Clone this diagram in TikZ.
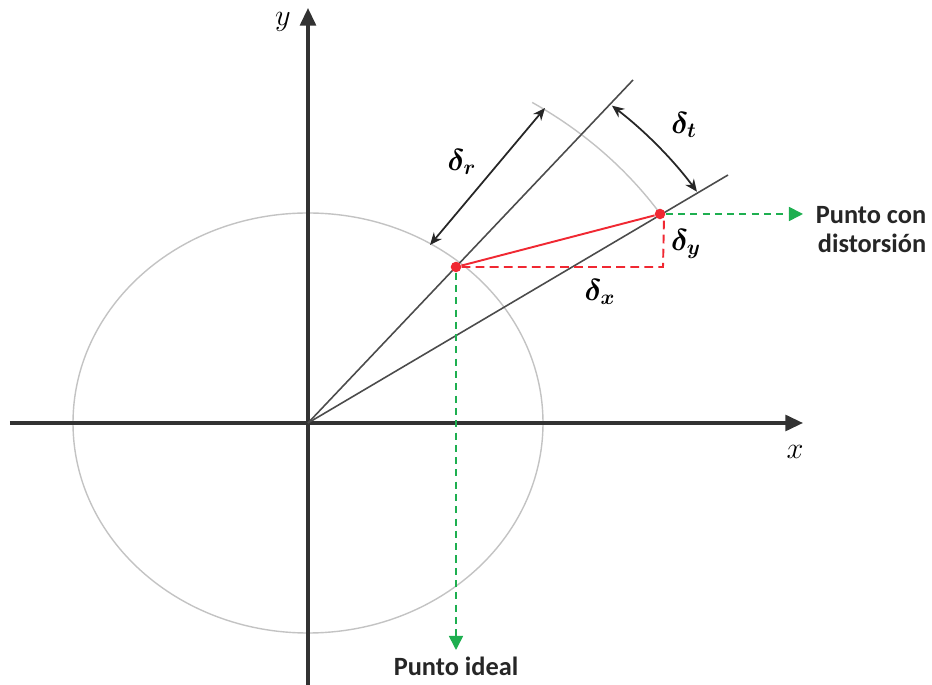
\documentclass[tikz,border=0pt]{standalone}
\usepackage{fontspec}
\setmainfont{Carlito}
\usepackage{bm}
\usetikzlibrary{arrows.meta}
\definecolor{axisgray}{RGB}{50,50,50}
\definecolor{raygray}{RGB}{75,75,75}
\definecolor{circgray}{RGB}{195,195,195}
\definecolor{ptred}{RGB}{240,40,50}
\definecolor{ptgreen}{RGB}{30,175,80}
\tikzset{
  axis/.style={line width=1.8pt, axisgray, -{Triangle[length=10pt,width=9pt]}},
  ray/.style={line width=0.9pt, raygray},
  circ/.style={line width=0.8pt, circgray},
  dimarrow/.style={line width=1pt, black!85, {Stealth[length=7pt,width=6pt]}-{Stealth[length=7pt,width=6pt]}},
  greenarrow/.style={line width=0.9pt, ptgreen, dash pattern=on 4pt off 3pt, -{Triangle[length=8pt,width=8pt]}},
  reddash/.style={line width=1.1pt, ptred, dash pattern=on 5pt off 3pt},
  dot/.style={circle, fill=ptred, inner sep=0pt, minimum size=6pt},
  mlabel/.style={font=\fontsize{17}{19}\selectfont},
  tlabel/.style={font=\fontsize{15}{16.5}\selectfont\bfseries, text=black!85, inner sep=0pt}
}
\begin{document}
\begin{tikzpicture}[x=0.02cm,y=0.02cm]
  \useasboundingbox (-308,-262) rectangle (624,423);
  % points
  \coordinate (O) at (0,0);
  \coordinate (C) at (355,156);
  \coordinate (R1) at (325,343);
  \coordinate (R2) at (420,248);
  \coordinate (Xa) at (-298,0);
  \coordinate (Xb) at (495,0);
  \coordinate (Ya) at (0,-262);
  \coordinate (Yb) at (0,415);
  \coordinate (Dout) at (495,209);
  \coordinate (Pout) at (148,-227);
  \coordinate (Ra) at (122,178);
  \coordinate (Rb) at (237,315);
  % circles
  \draw [circ] (O) ellipse [x radius=235, y radius=210];
  \draw [circ] (O) ++(33.6:423 and 378) arc [start angle=33.6, end angle=58, x radius=423, y radius=378];
  % axes
  \draw [axis] (Xa) -- (Xb);
  \draw [axis] (Ya) -- (Yb);
  \node [mlabel] (xl) at (487,-29) {$x$};
  \node [mlabel] (yl) at (-25,401) {$y$};
  % rays
  \draw [ray] (O) -- (R1);
  \draw [ray] (O) -- (R2);
  % deltas
  \draw [dimarrow] (Ra) -- (Rb);
  \draw [dimarrow] (O) ++(33.6:467 and 418) arc [start angle=33.6, end angle=49.4, x radius=467, y radius=418];
  \node [mlabel] (dr) at (154,261) {$\bm{\delta_r}$};
  \node [mlabel] (dt) at (376,298) {$\bm{\delta_t}$};
  \node [mlabel] (dx) at (292,131) {$\bm{\delta_x}$};
  \node [mlabel] (dy) at (378,179) {$\bm{\delta_y}$};
  % red
  \node [dot] (P) at (148,156) {};
  \node [dot] (D) at (352,209) {};
  \draw [reddash] (P) -- (C) -- (D.south east);
  \draw [line width=1.1pt, ptred] (P) -- (D);
  % green
  \draw [greenarrow] (D) -- (Dout);
  \draw [greenarrow] (P) -- (Pout);
  \node [tlabel, align=right] (dlab) at (563,193) {Punto con\\distorsión};
  \node [tlabel] (plab) at (148,-243) {Punto ideal};
\end{tikzpicture}
\end{document}
